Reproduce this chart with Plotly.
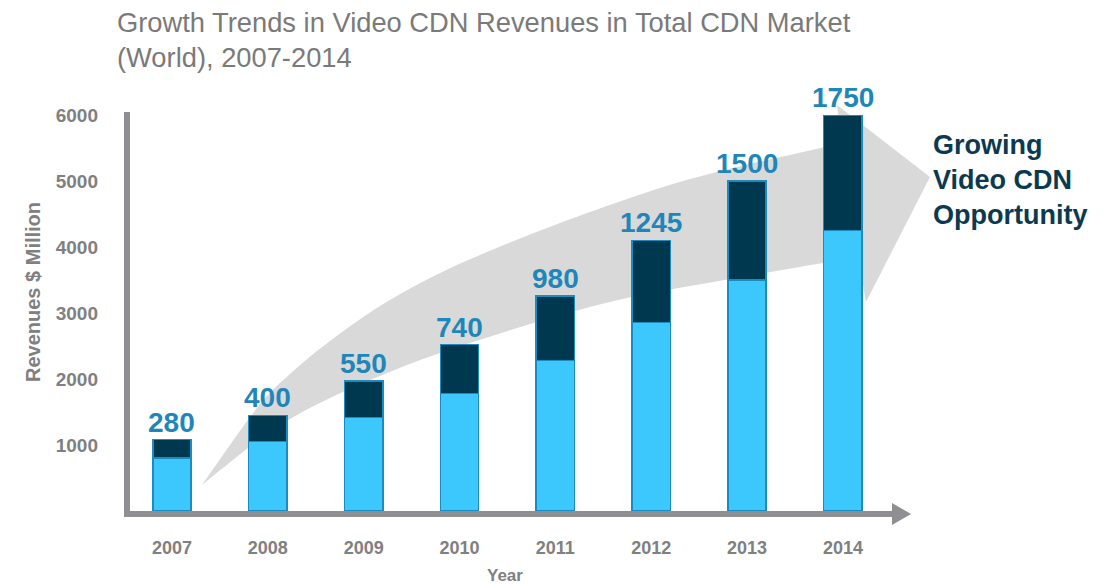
import plotly.graph_objects as go

# ---- data ----
years = ["2007", "2008", "2009", "2010", "2011", "2012", "2013", "2014"]
other_cdn = [800, 1050, 1420, 1780, 2280, 2855, 3500, 4250]      # lower (light) segment
video_cdn = [280, 400, 550, 740, 980, 1245, 1500, 1750]          # upper (dark) segment, labelled
y_ticks = [1000, 2000, 3000, 4000, 5000, 6000]

title_lines = ["Growth Trends in Video CDN Revenues in Total CDN Market",
               "(World), 2007-2014"]
callout = "Growing<br>Video CDN<br>Opportunity"

# ---- styling ----
W, H = 1108, 585
PL, PR, PT, PB = 127, 910, 115, 511          # plot area in pixels
FONT = "Liberation Sans, Arial, sans-serif"
GRAY = "#808080"
AXIS_GRAY = "#8e8e93"
LIGHT = "#3cc8fd"
DARK = "#00384f"
EDGE = "#1a8cc0"
LABEL = "#1f86b9"
CALLOUT = "#0b3a50"


def px(x):
    return (x - PL) / (PR - PL)


def py(y):
    return (PB - y) / (PB - PT)


def pt(p):
    return f"{px(p[0]):.4f},{py(p[1]):.4f}"


def smooth(points):
    """Catmull-Rom spline through pixel points, as cubic Bezier segments."""
    segs = []
    n = len(points)
    for i in range(n - 1):
        p0 = points[max(i - 1, 0)]
        p1 = points[i]
        p2 = points[i + 1]
        p3 = points[min(i + 2, n - 1)]
        c1 = (p1[0] + (p2[0] - p0[0]) / 6, p1[1] + (p2[1] - p0[1]) / 6)
        c2 = (p2[0] - (p3[0] - p1[0]) / 6, p2[1] - (p3[1] - p1[1]) / 6)
        segs.append(f"C {pt(c1)} {pt(c2)} {pt(p2)}")
    return " ".join(segs)


def poly(points):
    return "M " + " L ".join(pt(p) for p in points) + " Z"


fig = go.Figure()
fig.add_trace(go.Bar(x=years, y=other_cdn, width=0.4, marker=dict(color=LIGHT, line=dict(color=EDGE, width=1.5)),
                     hoverinfo="skip"))
fig.add_trace(go.Bar(x=years, y=video_cdn, width=0.4, marker=dict(color=DARK, line=dict(color=EDGE, width=1.5)),
                     hoverinfo="skip"))

# value labels above each stack
annotations = []
for i, (lo, hi) in enumerate(zip(other_cdn, video_cdn)):
    annotations.append(dict(xref="x", yref="y", x=i, y=lo + hi, text=f"<b>{hi}</b>", showarrow=False,
                            yanchor="bottom", yshift=0, font=dict(family=FONT, size=28, color=LABEL)))

# big curved growth arrow behind the bars
upper = [(202, 485), (257, 408), (290, 374), (330, 341), (380, 306), (430, 278), (480, 255), (560, 223),
         (660, 188), (733, 168), (790, 155), (842, 143)]
lower = [(858, 257), (823, 263), (730, 279), (627, 298), (537, 322), (440, 353), (380, 376), (330, 398),
         (290, 419), (252, 445), (202, 485)]
arrow_path = ("M " + pt(upper[0]) + " " + smooth(upper)
              + f" L {pt((837, 105))} L {pt((930, 177))} L {pt((866, 302))} L {pt(lower[0])} "
              + smooth(lower) + " Z")
shapes = [dict(type="path", xref="paper", yref="paper", path=arrow_path,
               fillcolor="#d9d9d9", line=dict(width=0), layer="below")]

# axes drawn as thick gray strokes, with an arrowhead on the x axis
shapes.append(dict(type="line", xref="paper", yref="paper", x0=px(127), x1=px(127), y0=py(112), y1=py(517),
                   line=dict(color=AXIS_GRAY, width=6)))
shapes.append(dict(type="line", xref="paper", yref="paper", x0=px(124), x1=px(896), y0=py(514), y1=py(514),
                   line=dict(color=AXIS_GRAY, width=6)))
shapes.append(dict(type="path", xref="paper", yref="paper",
                   path=poly([(892, 503), (911, 514), (892, 525)]),
                   fillcolor=AXIS_GRAY, line=dict(width=0)))

annotations += [
    dict(xref="paper", yref="paper", x=px(115), y=py(22), xanchor="left", yanchor="middle", showarrow=False,
         text=title_lines[0], font=dict(family=FONT, size=27.3, color="#7a7a7a")),
    dict(xref="paper", yref="paper", x=px(115), y=py(58), xanchor="left", yanchor="middle", showarrow=False,
         text=title_lines[1], font=dict(family=FONT, size=27.3, color="#7a7a7a")),
    dict(xref="paper", yref="paper", x=px(931), y=py(180), xanchor="left", yanchor="middle", showarrow=False,
         align="left", text=f"<b>{callout}</b>", font=dict(family=FONT, size=27, color=CALLOUT)),
    dict(xref="paper", yref="paper", x=px(505), y=py(575), xanchor="center", yanchor="middle", showarrow=False,
         text="<b>Year</b>", font=dict(family=FONT, size=17, color=GRAY)),
    dict(xref="paper", yref="paper", x=px(33), y=py(292), xanchor="center", yanchor="middle", showarrow=False,
         textangle=-90, text="<b>Revenues $ Million</b>", font=dict(family=FONT, size=20, color=GRAY)),
]

fig.update_layout(
    width=W, height=H,
    margin=dict(l=PL, r=W - PR, t=PT, b=H - PB, pad=0),
    paper_bgcolor="white", plot_bgcolor="white",
    barmode="stack", bargap=0.6, showlegend=False,
    shapes=shapes, annotations=annotations,
    xaxis=dict(type="category", range=[-0.469, 7.7], showgrid=False, zeroline=False, showline=False,
               ticks="", ticklabelstandoff=24,
               tickfont=dict(family=FONT, size=18, color=GRAY, weight="bold"), fixedrange=True),
    yaxis=dict(range=[0, 6000], tickvals=y_ticks, showgrid=False, zeroline=False, showline=False,
               ticks="", ticklabelstandoff=28,
               tickfont=dict(family=FONT, size=19, color=GRAY, weight="bold"), fixedrange=True),
)

fig.write_html("out.html", config=dict(displayModeBar=False))
